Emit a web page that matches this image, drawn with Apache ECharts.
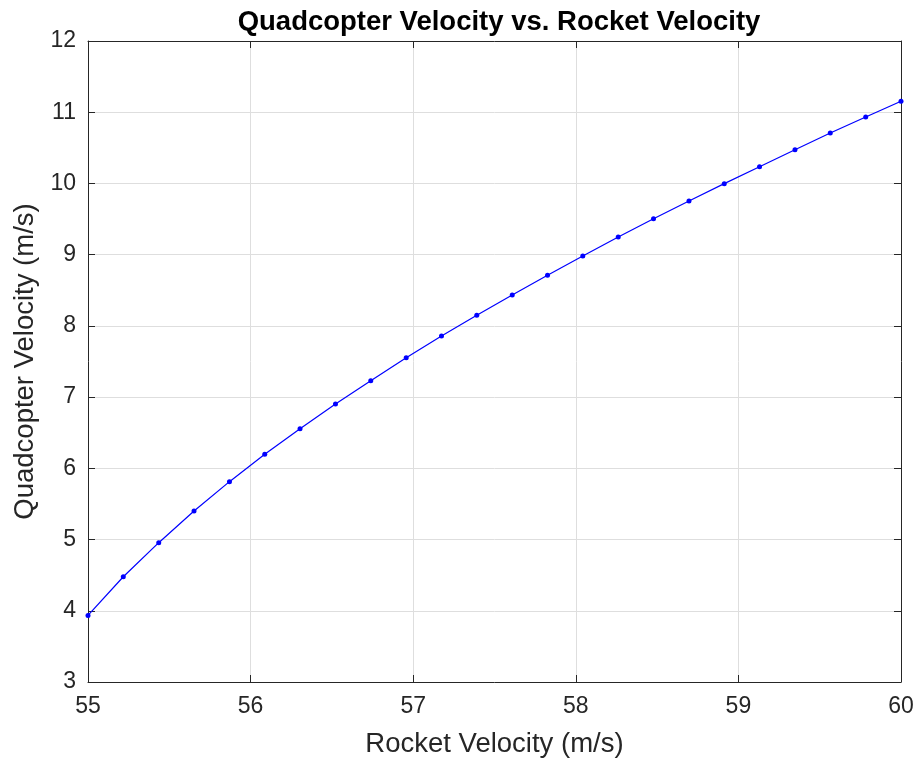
<!DOCTYPE html>
<html>
<head>
<meta charset="utf-8">
<script src="https://cdn.jsdelivr.net/npm/echarts@6/dist/echarts.min.js"></script>
<style>
  html, body { margin: 0; padding: 0; background: #ffffff; }
  #chart { width: 923px; height: 765px; }
</style>
</head>
<body>
<div id="chart"></div>
<script>
// Rocket velocity samples (m/s)
const rocketVelocity = [
  55.000, 55.217, 55.435, 55.652, 55.870, 56.087, 56.304, 56.522,
  56.739, 56.957, 57.174, 57.391, 57.609, 57.826, 58.043, 58.261,
  58.478, 58.696, 58.913, 59.130, 59.348, 59.565, 59.783, 60.000
];
// Quadcopter velocity for each rocket velocity (m/s)
const quadVelocity = [
  3.935, 4.478, 4.956, 5.401, 5.813, 6.197, 6.557, 6.903,
  7.230, 7.554, 7.858, 8.149, 8.434, 8.710, 8.981, 9.248,
  9.505, 9.754, 9.997, 10.235, 10.474, 10.709, 10.933, 11.153
];
const xTicks = [55, 56, 57, 58, 59, 60];
const yTicks = [3, 4, 5, 6, 7, 8, 9, 10, 11, 12];

const FONT = '"Liberation Sans", Arial, Helvetica, sans-serif';
const TXT = '#262626';
const AXIS = '#262626';
const GRID = '#dedede';

const points = rocketVelocity.map((x, i) => [x, quadVelocity[i]]);

const baseX = {
  type: 'value',
  min: xTicks[0], max: xTicks[xTicks.length - 1], interval: 1,
  axisLine: { show: true, onZero: false, lineStyle: { color: AXIS, width: 1 } },
  axisTick: { show: true, inside: true, length: 7, lineStyle: { color: AXIS } },
};
const baseY = {
  type: 'value',
  min: yTicks[0], max: yTicks[yTicks.length - 1], interval: 1,
  axisLine: { show: true, onZero: false, lineStyle: { color: AXIS, width: 1 } },
  axisTick: { show: true, inside: true, length: 7, lineStyle: { color: AXIS } },
};

const chart = echarts.init(document.getElementById('chart'), null, { renderer: 'canvas' });
chart.setOption({
  backgroundColor: '#ffffff',
  animation: false,
  title: {
    text: 'Quadcopter Velocity vs. Rocket Velocity',
    left: 494, top: 3, textAlign: 'center',
    textStyle: { fontFamily: FONT, fontSize: 27.5, fontWeight: 'bold', color: '#000000' }
  },
  grid: { left: 88, right: 22, top: 41, bottom: 83, containLabel: false },
  xAxis: [
    Object.assign({}, baseX, {
      position: 'bottom',
      name: 'Rocket Velocity (m/s)',
      nameLocation: 'middle', nameGap: 48,
      nameTextStyle: { fontFamily: FONT, fontSize: 27.5, color: TXT },
      axisLabel: { show: true, margin: 13, fontFamily: FONT, fontSize: 23, color: TXT },
      splitLine: { show: true, lineStyle: { color: GRID, width: 1 } }
    }),
    Object.assign({}, baseX, {
      position: 'top',
      axisLabel: { show: false },
      splitLine: { show: false }
    })
  ],
  yAxis: [
    Object.assign({}, baseY, {
      position: 'left',
      name: 'Quadcopter Velocity (m/s)',
      nameLocation: 'middle', nameGap: 46,
      nameTextStyle: { fontFamily: FONT, fontSize: 27.5, color: TXT },
      axisLabel: { show: true, margin: 12, fontFamily: FONT, fontSize: 23, color: TXT },
      splitLine: { show: true, lineStyle: { color: GRID, width: 1 } }
    }),
    Object.assign({}, baseY, {
      position: 'right',
      axisLabel: { show: false },
      splitLine: { show: false }
    })
  ],
  series: [{
    type: 'line',
    data: points,
    xAxisIndex: 0, yAxisIndex: 0,
    symbol: 'circle', symbolSize: 5,
    showAllSymbol: true,
    lineStyle: { color: '#0000ff', width: 1.2 },
    itemStyle: { color: '#0000ff' },
    clip: false
  }]
});
</script>
</body>
</html>
